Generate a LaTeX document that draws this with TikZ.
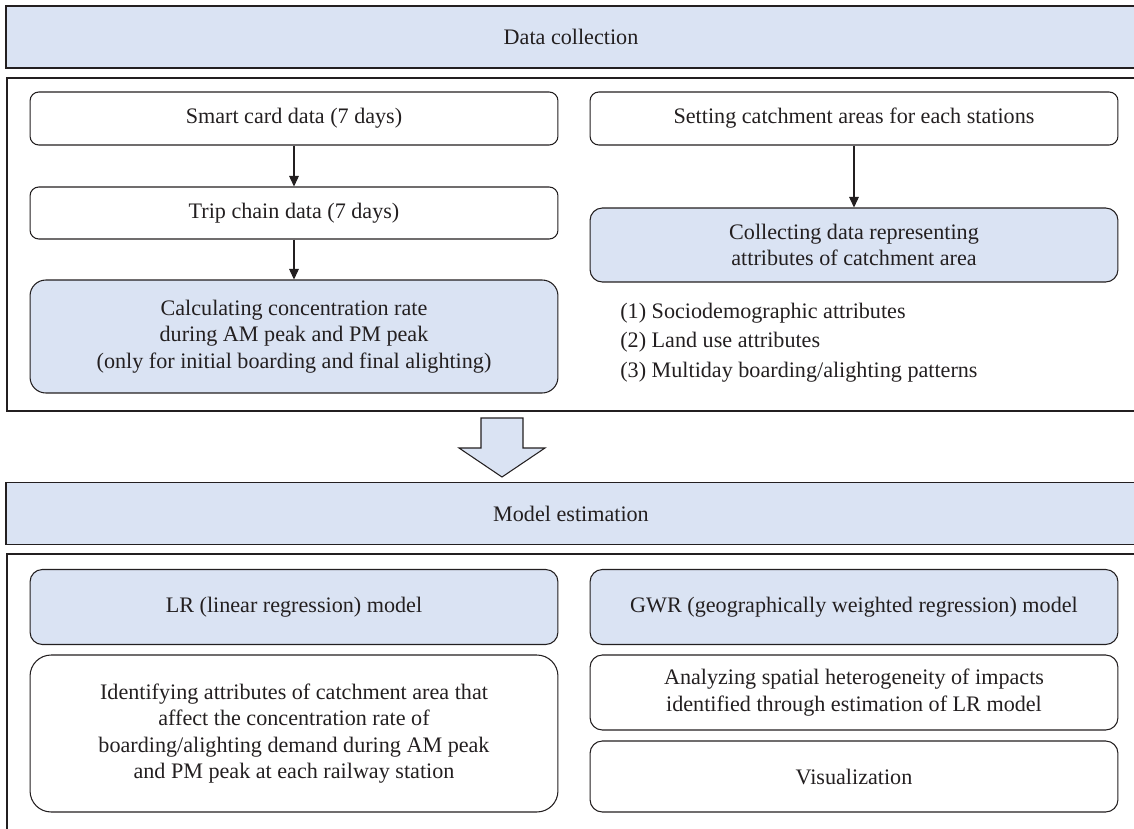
\documentclass[tikz,border=0pt]{standalone}
\usepackage{fontspec}
\setmainfont{Liberation Serif}
\usetikzlibrary{arrows.meta,positioning}
\definecolor{hdblue}{HTML}{DAE3F3}
\definecolor{hdink}{HTML}{231F20}

\begin{document}
\begin{tikzpicture}[
  x=0.02cm, y=-0.02cm,
  font=\fontsize{12.6}{15}\selectfont, text=hdink,
  head/.style={draw=hdink,line width=0.8pt,fill=hdblue,minimum width=22.6cm,
               minimum height=1.24cm,inner sep=0pt},
  frame/.style={draw=hdink,line width=0.8pt},
  step box/.style={draw=hdink,line width=0.6pt,rounded corners=5pt,align=center,
                   minimum width=10.56cm,inner sep=0pt},
  key box/.style={step box,fill=hdblue,rounded corners=9pt},
  item/.style={anchor=west,inner sep=0pt},
  arr/.style={-{Triangle[length=6pt,width=5.5pt]},line width=0.6pt,draw=hdink},
]
\useasboundingbox (0,0) rectangle (1134,829);
\clip (0,0) rectangle (1134,829);

% stage 1
\node[head] (dc) at (571,37) {Data collection};
\draw[frame] (7,78) rectangle (1137,411);

\node[step box,minimum height=1.06cm] (smart) at (294,118.5) {Smart card data (7 days)};
\node[step box,minimum height=1.04cm] (trip) at (294,213) {Trip chain data (7 days)};
\node[key box,minimum height=2.26cm] (conc) at (294,336.5)
  {Calculating concentration rate\\during AM peak and PM peak\\(only for initial boarding and final alighting)};

\node[step box,minimum height=1.06cm] (catch) at (854,118.5) {Setting catchment areas for each stations};
\node[key box,minimum height=1.48cm,rounded corners=7pt] (attr) at (854,245)
  {Collecting data representing\\attributes of catchment area};
\node[item] (i1) at (620,313) {(1) Sociodemographic attributes};
\node[item] (i2) at (620,342) {(2) Land use attributes};
\node[item] (i3) at (620,372) {(3) Multiday boarding/alighting patterns};

\draw[arr] (smart) -- (trip);
\draw[arr] (trip) -- (conc);
\draw[arr] (catch) -- (attr);

% big arrow between the stages
\draw[line width=0.6pt,draw=hdink,fill=hdblue]
  (481,418) -- (523,418) -- (523,448) -- (545,448) -- (502,477)
  -- (459,448) -- (481,448) -- cycle;

% stage 2
\node[head] (me) at (571,513.5) {Model estimation};
\draw[frame] (7,554) rectangle (1137,860);

\node[key box,minimum height=1.5cm,rounded corners=7pt] (lr) at (294,607) {LR (linear regression) model};
\node[step box,minimum height=3.14cm,rounded corners=12pt] (ident) at (294,733.5)
  {Identifying attributes of catchment area that\\affect the concentration rate of\\boarding/alighting demand during AM peak\\and PM peak at each railway station};

\node[key box,minimum height=1.5cm,rounded corners=7pt] (gwr) at (854,607) {GWR (geographically weighted regression) model};
\node[step box,minimum height=1.5cm,rounded corners=7pt] (spat) at (854,692.5)
  {Analyzing spatial heterogeneity of impacts\\identified through estimation of LR model};
\node[step box,minimum height=1.42cm,rounded corners=7pt] (vis) at (854,776.5) {Visualization};

\end{tikzpicture}
\end{document}
